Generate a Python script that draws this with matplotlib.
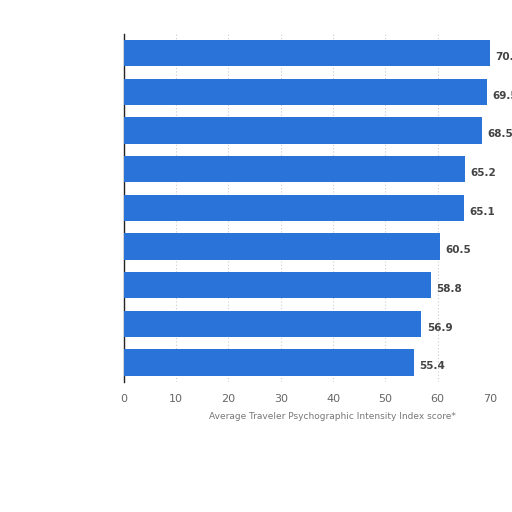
import numpy as np
import matplotlib
matplotlib.use("Agg")
import matplotlib.pyplot as plt

# Values (category labels are illegible in the reference)
values = [70.1, 69.5, 68.5, 65.2, 65.1, 60.5, 58.8, 56.9, 55.4]
value_labels = ["70.1", "69.5", "68.5", "65.2", "65.1", "60.5", "58.8", "56.9", "55.4"]
x_ticks = [0, 10, 20, 30, 40, 50, 60, 70]
x_label = "Average Traveler Psychographic Intensity Index score*"

bar_color = "#2a74d9"

fig = plt.figure(figsize=(5.12, 5.12), dpi=100)
ax = fig.add_axes([0.242, 0.254, 0.715, 0.68])

y = np.arange(len(values))
ax.barh(y, values, height=0.68, color=bar_color, zorder=3)
ax.set_ylim(len(values) - 0.5, -0.5)
ax.set_xlim(0, 70)

for yi, v, lab in zip(y, values, value_labels):
    ax.text(v + 1.0, yi + 0.1, lab, va="center", ha="left", fontsize=7.5,
            fontweight="bold", color="#444444", clip_on=False)

ax.set_xticks(x_ticks)
ax.set_xticklabels([str(t) for t in x_ticks], fontsize=8, color="#666666")
ax.set_yticks([])
ax.tick_params(axis="x", length=0, pad=9)
ax.xaxis.grid(True, linestyle=(0, (1, 2)), color="#cccccc", linewidth=0.8, zorder=0)
ax.set_xlabel(x_label, fontsize=6.5, color="#777777", labelpad=6)
ax.xaxis.set_label_coords(0.57, -0.085)

for side in ["top", "right", "bottom"]:
    ax.spines[side].set_visible(False)
ax.spines["left"].set_color("#222222")
ax.spines["left"].set_linewidth(1.0)

fig.savefig("out.png", dpi=100)
